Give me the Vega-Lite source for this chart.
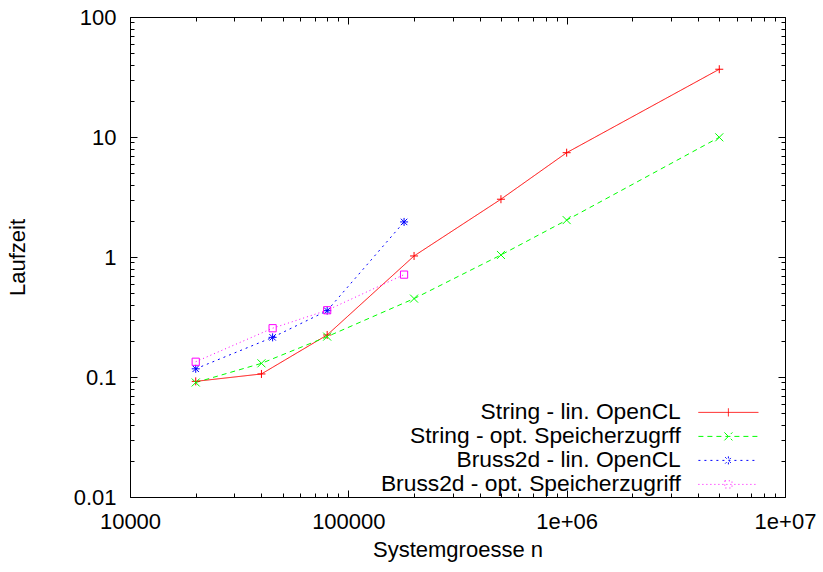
{
  "$schema": "https://vega.github.io/schema/vega-lite/v6.json",
  "width": 655,
  "height": 480,
  "autosize": {"type": "none"},
  "padding": {"left": 130, "top": 17, "right": 38, "bottom": 75},
  "background": "white",
  "config": {
    "view": {"stroke": "black", "strokeWidth": 1},
    "font": "Liberation Sans",
    "axis": {
      "domain": false, "grid": false, "tickColor": "black", "tickWidth": 1,
      "labelColor": "black", "titleColor": "black",
      "labelFont": "Liberation Sans", "titleFont": "Liberation Sans",
      "labelFontSize": 22, "titleFontSize": 22, "titleFontWeight": "normal",
      "labelFlush": false, "labelOverlap": false
    }
  },
  "data": {
    "values": [
      {"series": "String - lin. OpenCL", "n": 20000, "t": 0.092},
      {"series": "String - lin. OpenCL", "n": 40000, "t": 0.106},
      {"series": "String - lin. OpenCL", "n": 80000, "t": 0.224},
      {"series": "String - lin. OpenCL", "n": 200000, "t": 1.02},
      {"series": "String - lin. OpenCL", "n": 500000, "t": 3.03},
      {"series": "String - lin. OpenCL", "n": 1000000, "t": 7.4},
      {"series": "String - lin. OpenCL", "n": 5000000, "t": 36.7},
      {"series": "String - opt. Speicherzugrff", "n": 20000, "t": 0.09},
      {"series": "String - opt. Speicherzugrff", "n": 40000, "t": 0.13},
      {"series": "String - opt. Speicherzugrff", "n": 80000, "t": 0.217},
      {"series": "String - opt. Speicherzugrff", "n": 200000, "t": 0.45},
      {"series": "String - opt. Speicherzugrff", "n": 500000, "t": 1.04},
      {"series": "String - opt. Speicherzugrff", "n": 1000000, "t": 2.03},
      {"series": "String - opt. Speicherzugrff", "n": 5000000, "t": 9.94},
      {"series": "Bruss2d - lin. OpenCL", "n": 20000, "t": 0.117},
      {"series": "Bruss2d - lin. OpenCL", "n": 45000, "t": 0.214},
      {"series": "Bruss2d - lin. OpenCL", "n": 80000, "t": 0.357},
      {"series": "Bruss2d - lin. OpenCL", "n": 180000, "t": 1.96},
      {"series": "Bruss2d - opt. Speicherzugriff", "n": 20000, "t": 0.134},
      {"series": "Bruss2d - opt. Speicherzugriff", "n": 45000, "t": 0.255},
      {"series": "Bruss2d - opt. Speicherzugriff", "n": 80000, "t": 0.36},
      {"series": "Bruss2d - opt. Speicherzugriff", "n": 180000, "t": 0.713}
    ]
  },
  "layer": [
    {
      "mark": {"type": "point", "filled": false, "strokeWidth": 1, "opacity": 0, "size": 64},
      "encoding": {
        "x": {"field": "n", "type": "quantitative", "scale": {"type": "log", "domain": [10000, 10000000]}, "axis": null},
        "y": {"field": "t", "type": "quantitative", "scale": {"type": "log", "domain": [0.01, 100]}, "axis": null},
        "color": {"field": "series", "type": "nominal",
          "scale": {"domain": ["String - lin. OpenCL", "String - opt. Speicherzugrff", "Bruss2d - lin. OpenCL", "Bruss2d - opt. Speicherzugriff"],
            "range": ["#ff0000", "#00ff00", "#0000ff", "#ff00ff"]},
          "legend": {"title": null, "orient": "none", "legendX": 567, "legendY": 384,
            "symbolSize": 64, "symbolOffset": 20, "symbolStrokeWidth": 1, "symbolOpacity": 1,
            "labelAlign": "right", "labelOffset": -59,
            "labelFont": "Liberation Sans", "labelFontSize": 22.8, "labelColor": "black", "labelLimit": 500,
            "rowPadding": -1.8, "padding": 0}},
        "shape": {"field": "series", "type": "nominal",
          "scale": {"domain": ["String - lin. OpenCL", "String - opt. Speicherzugrff", "Bruss2d - lin. OpenCL", "Bruss2d - opt. Speicherzugriff"],
            "range": [
              "M-7.5,0H7.5M0,-1V1",
              "M-7.5,0H7.5M-1,-1L1,1M-1,1L1,-1",
              "M-7.5,0H7.5M0,-1V1M-0.8,-0.8L0.8,0.8M-0.8,0.8L0.8,-0.8",
              "M-7.5,0H7.5M-0.9,-0.9H0.9V0.9H-0.9Z"]},
          "legend": {"title": null, "orient": "none", "legendX": 567, "legendY": 384,
            "symbolSize": 64, "symbolOffset": 20, "symbolStrokeWidth": 1, "symbolOpacity": 1,
            "labelAlign": "right", "labelOffset": -59,
            "labelFont": "Liberation Sans", "labelFontSize": 22.8, "labelColor": "black", "labelLimit": 500,
            "rowPadding": -1.8, "padding": 0}},
        "strokeDash": {"field": "series", "type": "nominal",
          "scale": {"domain": ["String - lin. OpenCL", "String - opt. Speicherzugrff", "Bruss2d - lin. OpenCL", "Bruss2d - opt. Speicherzugriff"],
            "range": [[1, 0], [5, 4], [2, 4], [1, 3]]},
          "legend": {"title": null, "orient": "none", "legendX": 567, "legendY": 384,
            "symbolSize": 64, "symbolOffset": 20, "symbolStrokeWidth": 1, "symbolOpacity": 1,
            "labelAlign": "right", "labelOffset": -59,
            "labelFont": "Liberation Sans", "labelFontSize": 22.8, "labelColor": "black", "labelLimit": 500,
            "rowPadding": -1.8, "padding": 0}}
      }
    },
    {
      "mark": {"type": "line", "strokeWidth": 1, "clip": true},
      "encoding": {
        "x": {"field": "n", "type": "quantitative",
          "axis": {"orient": "bottom", "values": [10000, 100000, 1000000, 10000000], "tickSize": -7, "labelPadding": 21,
            "labelExpr": "datum.value == 10000 ? '10000' : datum.value == 100000 ? '100000' : datum.value == 1000000 ? '1e+06' : '1e+07'",
            "title": "Systemgroesse n", "titlePadding": 7}},
        "y": {"field": "t", "type": "quantitative",
          "axis": {"orient": "left", "values": [0.01, 0.1, 1, 10, 100], "tickSize": -7, "labelPadding": 21,
            "labelExpr": "datum.value == 0.01 ? '0.01' : datum.value == 0.1 ? '0.1' : datum.value == 1 ? '1' : datum.value == 10 ? '10' : '100'",
            "title": "Laufzeit", "titlePadding": 44}},
        "color": {"field": "series", "type": "nominal", "legend": null},
        "strokeDash": {"field": "series", "type": "nominal", "legend": null}
      }
    },
    {
      "transform": [{"filter": "datum.series == 'String - lin. OpenCL'"}],
      "mark": {"type": "point", "shape": "M-1,0H1M0,-1V1", "filled": false, "strokeWidth": 1, "opacity": 1, "size": 64},
      "encoding": {
        "x": {"field": "n", "type": "quantitative",
          "axis": {"orient": "top", "values": [10000, 100000, 1000000, 10000000], "tickSize": -7, "labels": false, "title": null}},
        "y": {"field": "t", "type": "quantitative",
          "axis": {"orient": "right", "values": [0.01, 0.1, 1, 10, 100], "tickSize": -7, "labels": false, "title": null}},
        "color": {"field": "series", "type": "nominal", "legend": null}
      }
    },
    {
      "transform": [{"filter": "datum.series == 'String - opt. Speicherzugrff'"}],
      "mark": {"type": "point", "shape": "M-1,-1L1,1M-1,1L1,-1", "filled": false, "strokeWidth": 1, "opacity": 1, "size": 64},
      "encoding": {
        "x": {"field": "n", "type": "quantitative", "axis": null},
        "y": {"field": "t", "type": "quantitative", "axis": null},
        "color": {"field": "series", "type": "nominal", "legend": null}
      }
    },
    {
      "transform": [{"filter": "datum.series == 'Bruss2d - lin. OpenCL'"}],
      "mark": {"type": "point", "shape": "M-1,0H1M0,-1V1M-0.8,-0.8L0.8,0.8M-0.8,0.8L0.8,-0.8", "filled": false, "strokeWidth": 1, "opacity": 1, "size": 64},
      "encoding": {
        "x": {"field": "n", "type": "quantitative", "axis": null},
        "y": {"field": "t", "type": "quantitative", "axis": null},
        "color": {"field": "series", "type": "nominal", "legend": null}
      }
    },
    {
      "transform": [{"filter": "datum.series == 'Bruss2d - opt. Speicherzugriff'"}],
      "mark": {"type": "point", "shape": "M-0.9,-0.9H0.9V0.9H-0.9Z", "filled": false, "strokeWidth": 1, "opacity": 1, "size": 64},
      "encoding": {
        "x": {"field": "n", "type": "quantitative", "axis": null},
        "y": {"field": "t", "type": "quantitative", "axis": null},
        "color": {"field": "series", "type": "nominal", "legend": null}
      }
    },
    {
      "mark": {"type": "point", "opacity": 0},
      "encoding": {
        "x": {"field": "n", "type": "quantitative",
          "axis": {"orient": "bottom", "values": [20000, 30000, 40000, 50000, 60000, 70000, 80000, 90000, 200000, 300000, 400000, 500000, 600000, 700000, 800000, 900000, 2000000, 3000000, 4000000, 5000000, 6000000, 7000000, 8000000, 9000000], "tickSize": -4, "labels": false, "title": null}},
        "y": {"field": "t", "type": "quantitative",
          "axis": {"orient": "left", "values": [0.02, 0.03, 0.04, 0.05, 0.06, 0.07, 0.08, 0.09, 0.2, 0.3, 0.4, 0.5, 0.6, 0.7, 0.8, 0.9, 2, 3, 4, 5, 6, 7, 8, 9, 20, 30, 40, 50, 60, 70, 80, 90], "tickSize": -4, "labels": false, "title": null}}
      }
    },
    {
      "mark": {"type": "point", "opacity": 0},
      "encoding": {
        "x": {"field": "n", "type": "quantitative",
          "axis": {"orient": "top", "values": [20000, 30000, 40000, 50000, 60000, 70000, 80000, 90000, 200000, 300000, 400000, 500000, 600000, 700000, 800000, 900000, 2000000, 3000000, 4000000, 5000000, 6000000, 7000000, 8000000, 9000000], "tickSize": -4, "labels": false, "title": null}},
        "y": {"field": "t", "type": "quantitative",
          "axis": {"orient": "right", "values": [0.02, 0.03, 0.04, 0.05, 0.06, 0.07, 0.08, 0.09, 0.2, 0.3, 0.4, 0.5, 0.6, 0.7, 0.8, 0.9, 2, 3, 4, 5, 6, 7, 8, 9, 20, 30, 40, 50, 60, 70, 80, 90], "tickSize": -4, "labels": false, "title": null}}
      }
    }
  ],
  "resolve": {"axis": {"x": "independent", "y": "independent"}}
}
